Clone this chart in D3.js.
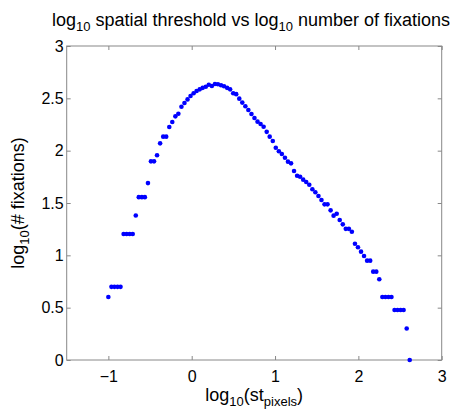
<!DOCTYPE html>
<html lang="en">
<head>
    <meta charset="UTF-8">
    <title>spatial threshold vs fixations</title>
    <script src="https://d3js.org/d3.v7.min.js"></script>
    <style>
        body {
            margin: 0;
        }

        text {
            font-family: "Liberation Sans", Arial, sans-serif;
            fill: black;
        }

        .axis text {
            font-size: 16px;
            font-family: "Liberation Sans", Arial, sans-serif;
        }

        .axis line {
            stroke: #888;
        }

        .label {
            font-size: 18px;
            text-anchor: middle;
        }
    </style>
</head>
<body>
<script>
    // tick values
    let xTicks = [-1, 0, 1, 2, 3];
    let yTicks = [0, 0.5, 1, 1.5, 2, 2.5, 3];

    // log10 threshold (x)
    let xVals = [
        -1.000, -0.963, -0.927, -0.890, -0.854, -0.817, -0.781, -0.744, -0.708, -0.671,
        -0.635, -0.598, -0.562, -0.525, -0.489, -0.452, -0.416, -0.379, -0.342, -0.306,
        -0.269, -0.233, -0.196, -0.160, -0.123, -0.087, -0.050, -0.014, 0.023, 0.059,
        0.096, 0.132, 0.169, 0.205, 0.242, 0.279, 0.315, 0.352, 0.388, 0.425,
        0.461, 0.498, 0.534, 0.571, 0.607, 0.644, 0.680, 0.717, 0.753, 0.790,
        0.827, 0.863, 0.900, 0.936, 0.973, 1.009, 1.046, 1.082, 1.119, 1.155,
        1.192, 1.228, 1.265, 1.301, 1.338, 1.374, 1.411, 1.448, 1.484, 1.521,
        1.557, 1.594, 1.630, 1.667, 1.703, 1.740, 1.776, 1.813, 1.849, 1.886,
        1.922, 1.959, 1.995, 2.032, 2.068, 2.105, 2.142, 2.178, 2.215, 2.251,
        2.288, 2.324, 2.361, 2.397, 2.434, 2.470, 2.507, 2.543, 2.580, 2.616
    ];

    // log10 number of fixations (y)
    let yVals = [
        0.602, 0.699, 0.699, 0.699, 0.699, 1.204, 1.204, 1.204, 1.204, 1.380,
        1.556, 1.556, 1.556, 1.690, 1.898, 1.898, 1.956, 2.070, 2.134, 2.134,
        2.226, 2.274, 2.328, 2.353, 2.420, 2.455, 2.490, 2.522, 2.548, 2.570,
        2.586, 2.600, 2.611, 2.630, 2.618, 2.637, 2.634, 2.625, 2.615, 2.600,
        2.586, 2.548, 2.540, 2.497, 2.459, 2.424, 2.389, 2.350, 2.312, 2.277,
        2.255, 2.229, 2.180, 2.134, 2.092, 2.028, 1.994, 1.968, 1.933, 1.895,
        1.879, 1.806, 1.761, 1.751, 1.723, 1.700, 1.675, 1.631, 1.602, 1.567,
        1.529, 1.487, 1.487, 1.430, 1.379, 1.398, 1.338, 1.296, 1.253, 1.253,
        1.226, 1.111, 1.077, 1.035, 0.994, 0.949, 0.949, 0.844, 0.844, 0.771,
        0.602, 0.602, 0.602, 0.602, 0.477, 0.477, 0.477, 0.477, 0.301, 0.000
    ];

    let width = 451;
    let height = 409;
    let plotLeft = 66.7, plotRight = 441.7, plotTop = 46, plotBottom = 360;

    let svg = d3.select("body").append("svg")
        .attr("width", width)
        .attr("height", height);

    svg.append("rect")
        .attr("fill", "white")
        .attr("width", width)
        .attr("height", height);

    let x = d3.scaleLinear().domain([-1.5, 3]).range([plotLeft, plotRight]);
    let y = d3.scaleLinear().domain([0, 3]).range([plotBottom, plotTop]);

    // axes, ticks point inward like matlab
    svg.append("g")
        .attr("class", "axis")
        .attr("transform", "translate(0," + plotBottom + ")")
        .call(d3.axisBottom(x).tickValues(xTicks).tickSize(-4).tickPadding(11).tickFormat(d3.format("d")));

    svg.append("g")
        .attr("class", "axis")
        .attr("transform", "translate(0," + plotTop + ")")
        .call(d3.axisTop(x).tickValues(xTicks).tickSize(-4).tickFormat(""));

    svg.append("g")
        .attr("class", "axis")
        .attr("transform", "translate(" + plotLeft + ",0)")
        .call(d3.axisLeft(y).tickValues(yTicks).tickSize(-4).tickPadding(3).tickFormat(d => String(d)));

    svg.append("g")
        .attr("class", "axis")
        .attr("transform", "translate(" + plotRight + ",0)")
        .call(d3.axisRight(y).tickValues(yTicks).tickSize(-4).tickFormat(""));

    svg.selectAll(".axis .domain").remove();

    // box around the plot
    svg.append("rect")
        .attr("x", plotLeft)
        .attr("y", plotTop)
        .attr("width", plotRight - plotLeft)
        .attr("height", plotBottom - plotTop)
        .attr("fill", "none")
        .attr("stroke", "#888");

    // points
    svg.append("g")
        .selectAll("circle")
        .data(xVals)
        .join("circle")
        .attr("cx", d => x(d))
        .attr("cy", (d, i) => y(yVals[i]))
        .attr("r", 2.3)
        .attr("fill", "#0000ff");

    // helper for text with subscripts
    function addSubText(g, parts) {
        parts.forEach(p => {
            let t = g.append("tspan").text(p[0]);
            if (p[1]) {
                t.attr("font-size", "13px").attr("dy", 5);
            } else if (p[2]) {
                t.attr("dy", -5);
            }
        });
    }

    let title = svg.append("text")
        .attr("class", "label")
        .attr("x", 251)
        .attr("y", 26);
    addSubText(title, [["log"], ["10", true], [" spatial threshold vs log", false, true],
        ["10", true], [" number of fixations", false, true]]);

    let xLabel = svg.append("text")
        .attr("class", "label")
        .attr("x", (plotLeft + plotRight) / 2)
        .attr("y", 401);
    addSubText(xLabel, [["log"], ["10", true], ["(st", false, true], ["pixels", true], [")", false, true]]);

    let yLabel = svg.append("text")
        .attr("class", "label")
        .attr("transform", "translate(24," + ((plotTop + plotBottom) / 2) + ") rotate(-90)");
    addSubText(yLabel, [["log"], ["10", true], ["(# fixations)", false, true]]);
</script>
</body>
</html>
